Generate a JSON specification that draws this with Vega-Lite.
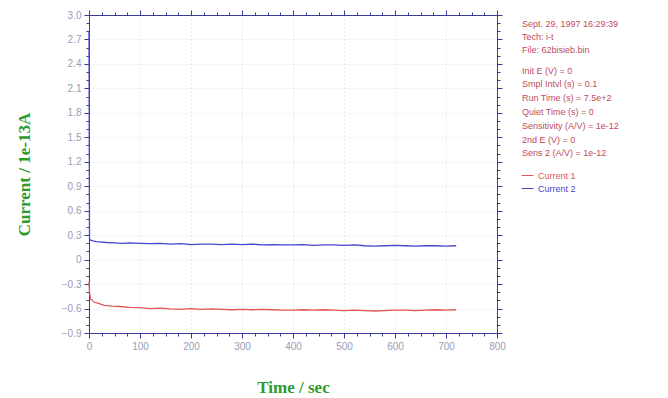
{
  "$schema": "https://vega.github.io/schema/vega-lite/v6.json",
  "width": 408,
  "height": 318,
  "autosize": {"type": "none"},
  "padding": {"left": 89, "top": 15, "right": 171, "bottom": 65},
  "background": "white",
  "config": {
    "view": {"stroke": null},
    "axis": {
      "domainColor": "#3a3a9a",
      "tickColor": "#3a3a9a",
      "labelColor": "#9a9ab8",
      "labelFont": "Liberation Sans",
      "labelFontSize": 10,
      "titleFont": "Liberation Serif",
      "titleFontSize": 17,
      "titleFontWeight": "bold",
      "titleColor": "#2e9a2e",
      "gridColor": "#d8d8d8",
      "gridDash": [1, 3]
    }
  },
  "title": {
    "text": ["Sept. 29, 1997   16:29:39", "Tech: i-t", "File: 62bisieb.bin"],
    "subtitle": ["Init E (V) = 0", "Smpl Intvl (s) = 0.1", "Run Time (s) = 7.5e+2", "Quiet Time (s) = 0", "Sensitivity (A/V) = 1e-12", "2nd E (V) = 0", "Sens 2 (A/V) = 1e-12"],
    "anchor": "start",
    "frame": "group",
    "orient": "top",
    "baseline": "top",
    "dx": 433,
    "dy": 149,
    "offset": 0,
    "font": "Liberation Sans",
    "fontSize": 9,
    "fontWeight": "normal",
    "color": "#c04a5e",
    "lineHeight": 13,
    "subtitleFont": "Liberation Sans",
    "subtitleFontSize": 9,
    "subtitleColor": "#c04a5e",
    "subtitleLineHeight": 13.8,
    "subtitlePadding": 12
  },
  "data": {
    "values": [
      {"t": 0, "i": 2.8, "s": "Current 2"},
      {"t": 1, "i": 0.25, "s": "Current 2"},
      {"t": 3, "i": 0.24, "s": "Current 2"},
      {"t": 8, "i": 0.23, "s": "Current 2"},
      {"t": 15, "i": 0.22, "s": "Current 2"},
      {"t": 25, "i": 0.215, "s": "Current 2"},
      {"t": 35, "i": 0.21, "s": "Current 2"},
      {"t": 50, "i": 0.205, "s": "Current 2"},
      {"t": 65, "i": 0.2, "s": "Current 2"},
      {"t": 80, "i": 0.205, "s": "Current 2"},
      {"t": 100, "i": 0.2, "s": "Current 2"},
      {"t": 120, "i": 0.195, "s": "Current 2"},
      {"t": 140, "i": 0.2, "s": "Current 2"},
      {"t": 160, "i": 0.19, "s": "Current 2"},
      {"t": 180, "i": 0.195, "s": "Current 2"},
      {"t": 200, "i": 0.185, "s": "Current 2"},
      {"t": 220, "i": 0.19, "s": "Current 2"},
      {"t": 240, "i": 0.19, "s": "Current 2"},
      {"t": 260, "i": 0.185, "s": "Current 2"},
      {"t": 280, "i": 0.19, "s": "Current 2"},
      {"t": 300, "i": 0.185, "s": "Current 2"},
      {"t": 320, "i": 0.19, "s": "Current 2"},
      {"t": 340, "i": 0.18, "s": "Current 2"},
      {"t": 360, "i": 0.185, "s": "Current 2"},
      {"t": 380, "i": 0.18, "s": "Current 2"},
      {"t": 400, "i": 0.18, "s": "Current 2"},
      {"t": 420, "i": 0.185, "s": "Current 2"},
      {"t": 440, "i": 0.175, "s": "Current 2"},
      {"t": 460, "i": 0.18, "s": "Current 2"},
      {"t": 480, "i": 0.18, "s": "Current 2"},
      {"t": 500, "i": 0.175, "s": "Current 2"},
      {"t": 520, "i": 0.18, "s": "Current 2"},
      {"t": 540, "i": 0.17, "s": "Current 2"},
      {"t": 560, "i": 0.165, "s": "Current 2"},
      {"t": 580, "i": 0.17, "s": "Current 2"},
      {"t": 600, "i": 0.175, "s": "Current 2"},
      {"t": 620, "i": 0.17, "s": "Current 2"},
      {"t": 640, "i": 0.165, "s": "Current 2"},
      {"t": 660, "i": 0.17, "s": "Current 2"},
      {"t": 680, "i": 0.17, "s": "Current 2"},
      {"t": 700, "i": 0.165, "s": "Current 2"},
      {"t": 720, "i": 0.17, "s": "Current 2"},
      {"t": 0, "i": -0.27, "s": "Current 1"},
      {"t": 1, "i": -0.4, "s": "Current 1"},
      {"t": 3, "i": -0.48, "s": "Current 1"},
      {"t": 6, "i": -0.5, "s": "Current 1"},
      {"t": 10, "i": -0.52, "s": "Current 1"},
      {"t": 20, "i": -0.54, "s": "Current 1"},
      {"t": 30, "i": -0.56, "s": "Current 1"},
      {"t": 45, "i": -0.57, "s": "Current 1"},
      {"t": 60, "i": -0.575, "s": "Current 1"},
      {"t": 80, "i": -0.585, "s": "Current 1"},
      {"t": 100, "i": -0.59, "s": "Current 1"},
      {"t": 120, "i": -0.6, "s": "Current 1"},
      {"t": 140, "i": -0.595, "s": "Current 1"},
      {"t": 160, "i": -0.605, "s": "Current 1"},
      {"t": 180, "i": -0.61, "s": "Current 1"},
      {"t": 200, "i": -0.6, "s": "Current 1"},
      {"t": 220, "i": -0.61, "s": "Current 1"},
      {"t": 240, "i": -0.605, "s": "Current 1"},
      {"t": 260, "i": -0.61, "s": "Current 1"},
      {"t": 280, "i": -0.615, "s": "Current 1"},
      {"t": 300, "i": -0.61, "s": "Current 1"},
      {"t": 320, "i": -0.615, "s": "Current 1"},
      {"t": 340, "i": -0.61, "s": "Current 1"},
      {"t": 360, "i": -0.615, "s": "Current 1"},
      {"t": 380, "i": -0.62, "s": "Current 1"},
      {"t": 400, "i": -0.62, "s": "Current 1"},
      {"t": 420, "i": -0.615, "s": "Current 1"},
      {"t": 440, "i": -0.62, "s": "Current 1"},
      {"t": 460, "i": -0.615, "s": "Current 1"},
      {"t": 480, "i": -0.62, "s": "Current 1"},
      {"t": 500, "i": -0.625, "s": "Current 1"},
      {"t": 520, "i": -0.62, "s": "Current 1"},
      {"t": 540, "i": -0.625, "s": "Current 1"},
      {"t": 560, "i": -0.63, "s": "Current 1"},
      {"t": 580, "i": -0.625, "s": "Current 1"},
      {"t": 600, "i": -0.62, "s": "Current 1"},
      {"t": 620, "i": -0.62, "s": "Current 1"},
      {"t": 640, "i": -0.625, "s": "Current 1"},
      {"t": 660, "i": -0.62, "s": "Current 1"},
      {"t": 680, "i": -0.615, "s": "Current 1"},
      {"t": 700, "i": -0.62, "s": "Current 1"},
      {"t": 720, "i": -0.615, "s": "Current 1"}
    ]
  },
  "resolve": {"axis": {"x": "independent", "y": "independent"}},
  "layer": [
    {
      "mark": {"type": "line", "strokeWidth": 1.3},
      "encoding": {
        "x": {
          "field": "t", "type": "quantitative",
          "scale": {"domain": [0, 800], "nice": false},
          "axis": {
            "title": "Time / sec",
            "titlePadding": 28,
            "values": [0,25,50,75,100,125,150,175,200,225,250,275,300,325,350,375,400,425,450,475,500,525,550,575,600,625,650,675,700,725,750,775,800],
            "labelExpr": "datum.value % 100 == 0 ? datum.label : ''",
            "tickSize": {"condition": {"test": "datum.value % 100 == 0", "value": 5}, "value": 3},
            "gridOpacity": {"condition": {"test": "datum.value % 100 == 0", "value": 1}, "value": 0},
            "labelPadding": 3,
            "labelFlush": false
          }
        },
        "y": {
          "field": "i", "type": "quantitative",
          "scale": {"domain": [-0.9, 3.0], "nice": false, "zero": false},
          "axis": {
            "title": "Current / 1e-13A",
            "titlePadding": 28,
            "values": [-0.9,-0.8,-0.7,-0.6,-0.5,-0.4,-0.3,-0.2,-0.1,0,0.1,0.2,0.3,0.4,0.5,0.6,0.7,0.8,0.9,1.0,1.1,1.2,1.3,1.4,1.5,1.6,1.7,1.8,1.9,2.0,2.1,2.2,2.3,2.4,2.5,2.6,2.7,2.8,2.9,3.0],
            "labelExpr": "abs(round(datum.value*10)) % 3 == 0 ? (datum.value == 0 ? '0' : format(datum.value, '.1f')) : ''",
            "tickSize": {"condition": {"test": "abs(round(datum.value*10)) % 3 == 0", "value": 5}, "value": 3},
            "gridOpacity": {"condition": {"test": "abs(round(datum.value*10)) % 3 == 0", "value": 1}, "value": 0},
            "labelPadding": 3,
            "labelFlush": false
          }
        },
        "color": {
          "field": "s", "type": "nominal",
          "scale": {"domain": ["Current 1", "Current 2"], "range": ["#e05555", "#4646cc"]},
          "legend": {
            "title": null,
            "orient": "none",
            "legendX": 432,
            "legendY": 154,
            "padding": 0,
            "symbolType": "stroke",
            "symbolSize": 144,
            "symbolStrokeWidth": 1,
            "rowPadding": 1,
            "labelFont": "Liberation Sans",
            "labelFontSize": 9,
            "labelOffset": 4,
            "encode": {
              "labels": {"update": {"fill": {"signal": "datum.label == 'Current 1' ? '#e05555' : '#4646cc'"}}}
            }
          }
        }
      }
    },
    {
      "mark": {"type": "line", "strokeOpacity": 0},
      "encoding": {
        "x": {
          "field": "t", "type": "quantitative",
          "axis": {
            "orient": "top", "title": null, "labels": false, "grid": false,
            "values": [0,25,50,75,100,125,150,175,200,225,250,275,300,325,350,375,400,425,450,475,500,525,550,575,600,625,650,675,700,725,750,775,800],
            "tickSize": {"condition": {"test": "datum.value % 100 == 0", "value": 5}, "value": 3}
          }
        },
        "y": {
          "field": "i", "type": "quantitative",
          "axis": {
            "orient": "right", "title": null, "labels": false, "grid": false,
            "values": [-0.9,-0.8,-0.7,-0.6,-0.5,-0.4,-0.3,-0.2,-0.1,0,0.1,0.2,0.3,0.4,0.5,0.6,0.7,0.8,0.9,1.0,1.1,1.2,1.3,1.4,1.5,1.6,1.7,1.8,1.9,2.0,2.1,2.2,2.3,2.4,2.5,2.6,2.7,2.8,2.9,3.0],
            "tickSize": {"condition": {"test": "abs(round(datum.value*10)) % 3 == 0", "value": 5}, "value": 3}
          }
        },
        "detail": {"field": "s"}
      }
    }
  ]
}
